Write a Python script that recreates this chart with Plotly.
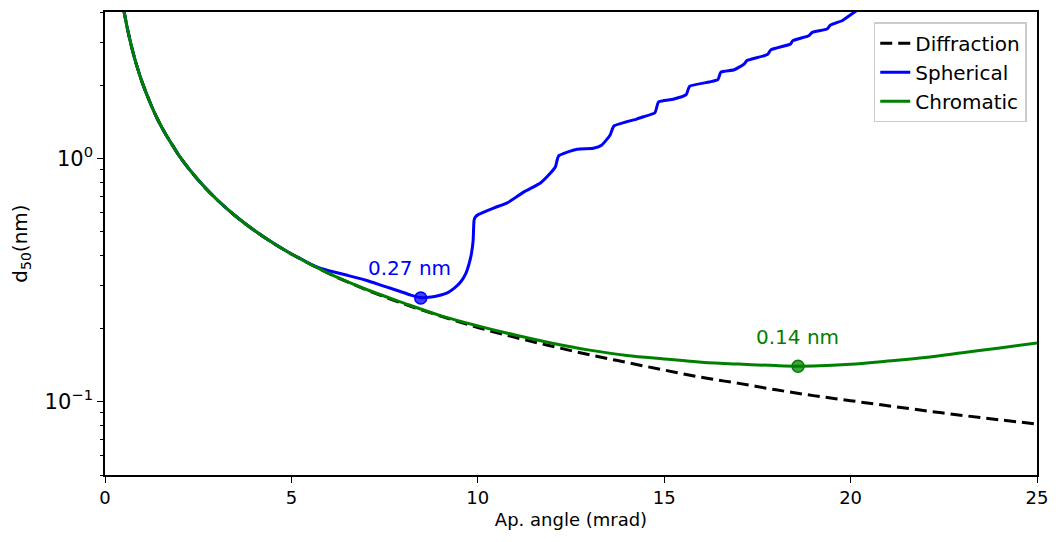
import plotly.graph_objects as go
import math

# ---- data ----
diff_x = [0.5, 0.6, 0.7, 0.8, 0.9, 1.0, 1.2, 1.4, 1.6, 1.8, 2.0, 2.5, 3.0, 3.5, 4.0, 4.5,
          5, 6, 7, 8, 9, 10, 11, 12, 13, 14, 15, 16, 17, 18, 19, 20, 21, 22, 23, 24, 25]
diff_y = [4.10, 3.42, 2.93, 2.56, 2.28, 2.05, 1.71, 1.46, 1.28, 1.14, 1.02, 0.815, 0.678, 0.580,
          0.507, 0.450, 0.405, 0.337, 0.289, 0.253, 0.225, 0.202, 0.184, 0.169, 0.156, 0.145,
          0.135, 0.126, 0.119, 0.112, 0.106, 0.101, 0.0963, 0.0919, 0.0879, 0.0843, 0.0810]

chrom_x = [0.5, 0.6, 0.7, 0.8, 0.9, 1.0, 1.2, 1.4, 1.6, 1.8, 2.0, 2.5, 3.0, 3.5, 4.0, 4.5,
           5, 6, 7, 8, 9, 10, 11, 12, 13, 14, 15, 16, 17, 18, 18.6, 19, 20, 21, 22, 23, 24, 25]
chrom_y = [4.10, 3.42, 2.93, 2.56, 2.28, 2.05, 1.71, 1.46, 1.28, 1.14, 1.02, 0.815, 0.678, 0.580,
           0.507, 0.450, 0.405, 0.337, 0.290, 0.255, 0.226, 0.205, 0.188, 0.174, 0.163, 0.155,
           0.150, 0.1455, 0.1428, 0.1408, 0.1400, 0.1402, 0.1425, 0.147, 0.152, 0.159, 0.1665, 0.1746]

sph_x = [0.5, 0.6, 0.7, 0.8, 0.9, 1.0, 1.2, 1.4, 1.6, 1.8, 2.0, 2.5, 3.0, 3.5, 4.0, 4.5,
         5.0, 5.25, 5.5, 5.75, 6.0, 6.5, 7.0, 7.5, 7.86, 8.2, 8.47, 8.75, 8.93, 9.195, 9.37,
         9.55, 9.68, 9.77, 9.83, 9.875, 9.90,
         9.933, 10.02, 10.44, 10.79, 11.24, 11.68, 11.95, 12.08, 12.17, 12.66, 13.10, 13.33,
         13.55, 13.65, 14.26, 14.44, 14.75, 14.85, 15.24, 15.59, 15.68, 16.21, 16.44, 16.52,
         16.88, 17.15, 17.22, 17.77, 17.86, 18.39, 18.45, 18.88, 18.97, 19.37, 19.46, 19.77,
         19.86, 20.4]
sph_y = [4.10, 3.42, 2.93, 2.56, 2.28, 2.05, 1.71, 1.46, 1.28, 1.14, 1.02, 0.815, 0.678, 0.580,
         0.507, 0.450,
         0.405, 0.387, 0.369, 0.355, 0.346, 0.331, 0.316, 0.298, 0.286, 0.2745, 0.268, 0.2695,
         0.2726, 0.281, 0.293, 0.312, 0.337, 0.371, 0.407, 0.461, 0.557,
         0.574, 0.589, 0.627, 0.657, 0.729, 0.793, 0.871, 0.922, 1.025, 1.092, 1.102, 1.137,
         1.249, 1.359, 1.452, 1.484, 1.541, 1.709, 1.752, 1.830, 1.980, 2.062, 2.108, 2.265,
         2.315, 2.449, 2.527, 2.674, 2.795, 2.956, 3.050, 3.197, 3.299, 3.404, 3.534, 3.681,
         3.763, 4.30]

sph_min = (8.47, 0.267)
chrom_min = (18.59, 0.140)

FONT = "DejaVu Sans"

fig = go.Figure()
fig.add_trace(go.Scatter(x=diff_x, y=diff_y, mode="lines", name="Diffraction",
                         line=dict(color="black", width=3, dash="12px,6px", shape="spline")))
fig.add_trace(go.Scatter(x=sph_x, y=sph_y, mode="lines", name="Spherical",
                         line=dict(color="#0000ff", width=3, shape="spline", smoothing=0.5)))
fig.add_trace(go.Scatter(x=chrom_x, y=chrom_y, mode="lines", name="Chromatic",
                         line=dict(color="#008000", width=3, shape="spline")))
fig.add_trace(go.Scatter(x=[sph_min[0]], y=[sph_min[1]], mode="markers", showlegend=False,
                         marker=dict(color="rgba(0,0,255,0.75)", size=12,
                                     line=dict(color="#0000ff", width=1.5))))
fig.add_trace(go.Scatter(x=[chrom_min[0]], y=[chrom_min[1]], mode="markers", showlegend=False,
                         marker=dict(color="rgba(0,128,0,0.75)", size=12,
                                     line=dict(color="#008000", width=1.5))))

fig.add_annotation(x=8.16, y=math.log10(0.355), text="0.27 nm", showarrow=False,
                   font=dict(family=FONT, size=20, color="#0000ff"))
fig.add_annotation(x=18.58, y=math.log10(0.185), text="0.14 nm", showarrow=False,
                   font=dict(family=FONT, size=20, color="#008000"))

minor_vals = [0.05, 0.06, 0.07, 0.08, 0.09, 0.2, 0.3, 0.4, 0.5, 0.6, 0.7, 0.8, 0.9, 2, 3, 4]

fig.update_layout(
    width=1058, height=542,
    margin=dict(l=105, r=15, t=10, b=67),
    plot_bgcolor="white", paper_bgcolor="white",
    font=dict(family=FONT, size=18, color="black"),
    legend=dict(x=0.989, y=0.978, xanchor="right", yanchor="top",
                bgcolor="rgba(255,255,255,0.9)", bordercolor="#cccccc", borderwidth=1.5,
                font=dict(family=FONT, size=20), tracegroupgap=0),
    xaxis=dict(range=[0, 25], tickvals=[0, 5, 10, 15, 20, 25], showgrid=False, zeroline=False,
               showline=True, linecolor="black", linewidth=1.6, mirror=True,
               ticks="outside", ticklen=6, tickwidth=1.4, tickcolor="black",
               tickfont=dict(family=FONT, size=18),
               title=dict(text="Ap. angle (mrad)", font=dict(family=FONT, size=18), standoff=6)),
    yaxis=dict(type="log", range=[math.log10(0.05), math.log10(4.0)],
               tickvals=[0.1, 1], ticktext=["10<sup>−1</sup>", "10<sup>0</sup>"],
               showgrid=False, zeroline=False,
               showline=True, linecolor="black", linewidth=1.6, mirror=True,
               ticks="outside", ticklen=6, tickwidth=1.4, tickcolor="black",
               tickfont=dict(family=FONT, size=21),
               minor=dict(tickmode="array", tickvals=minor_vals, ticks="outside",
                          ticklen=3.5, tickwidth=1.2, tickcolor="black", showgrid=False),
               title=dict(text="d<sub>50</sub>(nm)", font=dict(family=FONT, size=20), standoff=12)),
)

fig.write_html("out.html")
